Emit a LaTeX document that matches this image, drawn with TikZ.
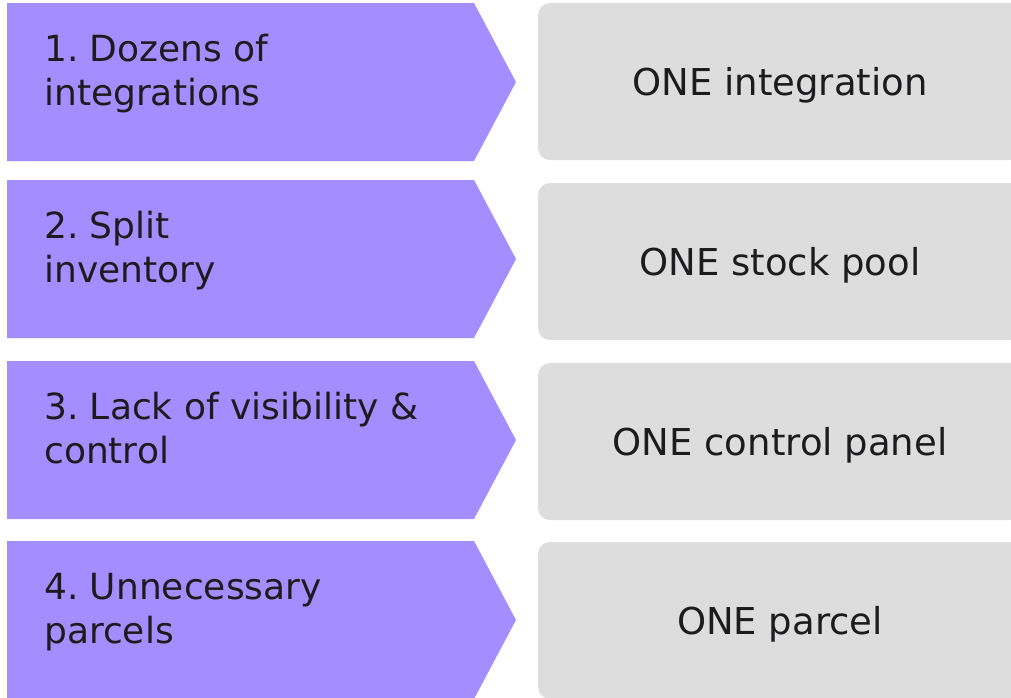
\documentclass[tikz,border=0pt]{standalone}
\usepackage{fontspec}
\setmainfont{DejaVu Sans}
\frenchspacing
\definecolor{probpurple}{RGB}{163,142,255}
\definecolor{fixgray}{RGB}{221,221,221}
\definecolor{inkblack}{RGB}{28,28,30}
\usetikzlibrary{positioning}

\begin{document}
\begin{tikzpicture}[x=1pt, y=-1pt,
    problem/.style={anchor=base west, align=left, inner sep=0pt, text=inkblack, font=\fontsize{36}{44}\selectfont},
    fix/.style={fill=fixgray, rounded corners=12pt, minimum width=484pt, minimum height=157pt, inner sep=0pt, text=inkblack, font=\fontsize{37}{44}\selectfont},
  ]
  \useasboundingbox (0,0) rectangle (1011,697);
  \foreach \n/\pt/\gt/\prob/\sol in {
      1/3/3/{1. Dozens of\\integrations}/{ONE integration},
      2/180/183/{2. Split\\inventory}/{ONE stock pool},
      3/361/363/{3. Lack of visibility \&\\control}/{ONE control panel},
      4/541/542/{4. Unnecessary\\parcels}/{ONE parcel}} {
    % problem arrow
    \fill[probpurple] (7,\pt) -- (474,\pt) -- (516,\pt+79) -- (474,\pt+158) -- (7,\pt+158) -- cycle;
    \node[problem] (prob\n) at (44,\pt+102) {\prob};
    % solution box
    \node[fix] (fix\n) at (780,\gt+78.5) {};
    \node[text=inkblack, font=\fontsize{37}{44}\selectfont, anchor=base] (sol\n) at ([yshift=-14pt]fix\n.center) {\sol};
  }
\end{tikzpicture}
\end{document}
